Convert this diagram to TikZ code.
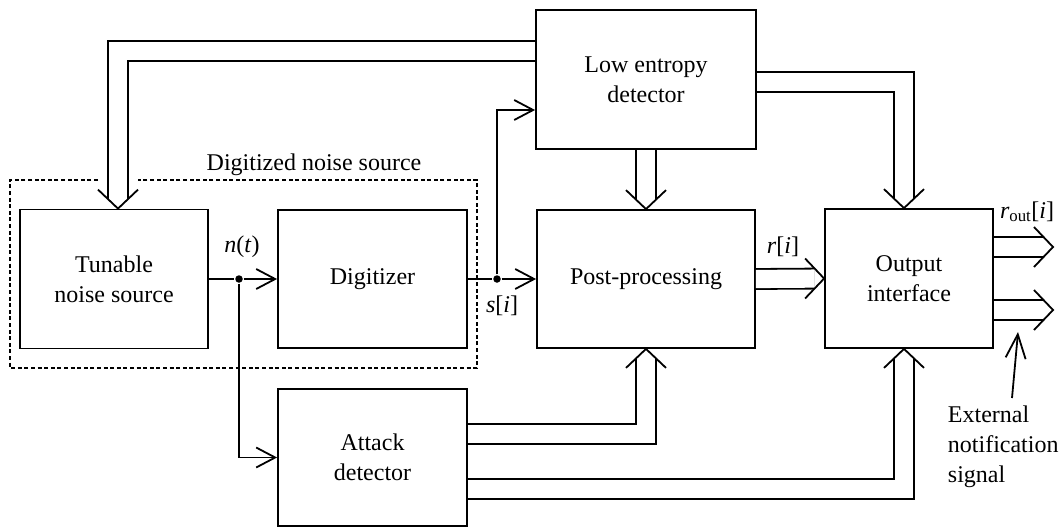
\documentclass[tikz,border=0pt]{standalone}
\usepackage{fontspec}
\setmainfont{Liberation Serif}
\usetikzlibrary{arrows.meta,calc}

\begin{document}
\begin{tikzpicture}[x=1pt,y=-1pt,line width=1.8pt,
  txt/.style={font=\fontsize{24}{30}\selectfont},
  blockbox/.style={draw, txt, align=center, inner sep=0pt},
  lbl/.style={txt, inner sep=0pt, anchor=base},
  sig/.style={-{Straight Barb[length=19pt,width=20pt]}},
  bus/.style={double, double distance=18.2pt, shorten >=10pt},
  dot/.style={circle, fill, inner sep=0pt, minimum size=7.5pt},
  bushead/.pic={\draw[line join=miter] (-19,-20) -- (0,0) -- (-19,20);}
]
\useasboundingbox (0,0) rectangle (1059,528);

% blocks
\node[blockbox, minimum width=188pt, minimum height=139pt] (tns) at (114,279) {Tunable\\noise source};
\node[blockbox, minimum width=189pt, minimum height=138pt] (dig) at (372.5,279) {Digitizer};
\node[blockbox, minimum width=220pt, minimum height=139pt] (led) at (646,79.5) {Low entropy\\detector};
\node[blockbox, minimum width=218pt, minimum height=138pt] (pp) at (646,279) {Post-processing};
\node[blockbox, minimum width=168pt, minimum height=139pt] (oi) at (909,278.5) {Output\\interface};
\node[blockbox, minimum width=189pt, minimum height=137pt] (atk) at (372.5,457.5) {Attack\\detector};

% digitized noise source frame (open where the feedback bus enters)
\draw[dashed, dash pattern=on 4pt off 2.6pt, line width=1.5pt]
  (98,180) -- (10,180) -- (10,368) -- (477,368) -- (477,180) -- (138,180);
\node[lbl] (dnslbl) at (314,170) {Digitized noise source};

% junctions
\node[dot] (j1) at (239,279) {};
\node[dot] (j2) at (497,279) {};

% single-line signals
\draw (tns.east) -- (j1);
\draw[sig] (j1) -- (dig.west);
\draw[sig] (j1) |- (atk.west);
\draw (dig.east) -- (j2);
\draw[sig] (j2) -- (pp.west);
\draw[sig] (j2) |- (led.west |- 0,110);

\node[lbl] (nt) at (242,252) {\textit{n}(\textit{t})};
\node[lbl] (si) at (502,312) {\textit{s}[\textit{i}]};
\node[lbl] (ri) at (783,253) {\textit{r}[\textit{i}]};
\node[lbl] (rout) at (1027,218) {\textit{r}\textsubscript{out}[\textit{i}]};

% buses
\draw[bus] (led.west |- 0,51) -| (tns.north -| 118,0);
\pic[rotate=-90] at (tns.north -| 118,0) {bushead};

\draw[bus] (led.south) -- (pp.north);
\pic[rotate=-90] at (pp.north) {bushead};

\draw[bus] (led.east |- 0,82) -| (oi.north -| 904,0);
\pic[rotate=-90] at (oi.north -| 904,0) {bushead};

\draw[bus] (pp.east) -- (oi.west);
\pic at (oi.west) {bushead};

\draw[bus] (atk.east |- 0,434) -| (pp.south);
\pic[rotate=90] at (pp.south) {bushead};

\draw[bus] (atk.east |- 0,489) -| (oi.south -| 904,0);
\pic[rotate=90] at (oi.south -| 904,0) {bushead};

\coordinate (out1) at (1053,247);
\coordinate (out2) at (1053,310);
\draw[bus] (oi.east |- out1) -- (out1);
\pic at (out1) {bushead};
\draw[bus] (oi.east |- out2) -- (out2);
\pic at (out2) {bushead};

% external notification
\node[txt, align=left, inner sep=0pt, anchor=north west] (ext) at (947,405) {External\\notification\\signal};
\coordinate (extin) at (1018,332);
\draw[-{Straight Barb[length=24pt,width=20pt]}] ($(ext.north west)+(65,-7)$) -- (extin);
\end{tikzpicture}
\end{document}
